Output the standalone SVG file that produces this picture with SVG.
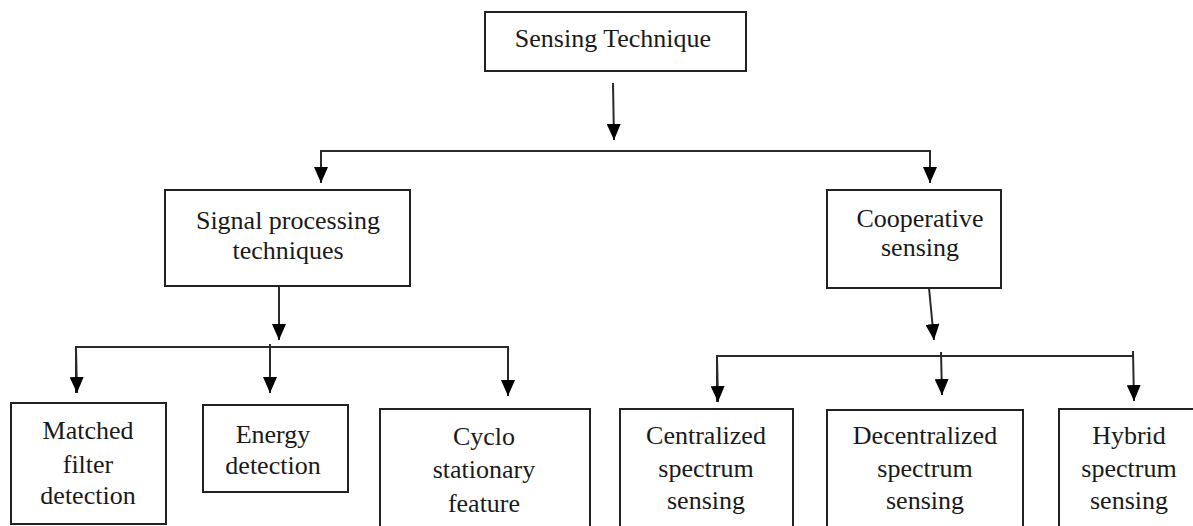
<svg xmlns="http://www.w3.org/2000/svg" width="1193" height="526" viewBox="0 0 1193 526">
<style>
.box{fill:#fff;stroke:#222;stroke-width:2}
.t{font-family:"Liberation Serif","Times New Roman",serif;font-size:26px;fill:#1a1a1a;text-anchor:middle}
.c{fill:none;stroke:#2a2a2a;stroke-width:2}
</style>
<defs>
<marker id="ah" viewBox="0 0 16 14" refX="16" refY="7" markerWidth="16" markerHeight="14" markerUnits="userSpaceOnUse" orient="auto">
<path d="M0,0 L16,7 L0,14 z" fill="#000"/>
</marker>
</defs>
<rect width="1193" height="526" fill="#fff"/>
<g id="connectors">
<line class="c" x1="613" y1="83" x2="614" y2="140" marker-end="url(#ah)"/>
<polyline class="c" points="321,183 321,151 930,151 930,183" marker-end="url(#ah)"/>
<line class="c" x1="321" y1="152" x2="321" y2="183" marker-end="url(#ah)"/>
<line class="c" x1="279" y1="286" x2="279" y2="340" marker-end="url(#ah)"/>
<polyline class="c" points="76,393 76,347 508,347 508,396" marker-end="url(#ah)"/>
<line class="c" x1="76" y1="348" x2="77" y2="393" marker-end="url(#ah)"/>
<line class="c" x1="270" y1="344" x2="270" y2="393" marker-end="url(#ah)"/>
<line class="c" x1="929" y1="288" x2="934" y2="340" marker-end="url(#ah)"/>
<polyline class="c" points="717,402 717,356 1133,356" />
<line class="c" x1="717" y1="356" x2="718" y2="402" marker-end="url(#ah)"/>
<line class="c" x1="941" y1="352" x2="942" y2="395" marker-end="url(#ah)"/>
<line class="c" x1="1133" y1="351" x2="1134" y2="401" marker-end="url(#ah)"/>
</g>
<g id="n-sensing">
<rect class="box" x="485" y="12" width="261" height="59"/>
<text class="t" x="613" y="47">Sensing Technique</text>
</g>
<g id="n-signal">
<rect class="box" x="165" y="190" width="245" height="96"/>
<text class="t" x="288" y="229">Signal processing</text>
<text class="t" x="288" y="259">techniques</text>
</g>
<g id="n-coop">
<rect class="box" x="827" y="190" width="174" height="98"/>
<text class="t" x="920" y="227">Cooperative</text>
<text class="t" x="920" y="256">sensing</text>
</g>
<g id="n-matched">
<rect class="box" x="11" y="403" width="155" height="121"/>
<text class="t" x="88" y="439">Matched</text>
<text class="t" x="88" y="473">filter</text>
<text class="t" x="88" y="504">detection</text>
</g>
<g id="n-energy">
<rect class="box" x="203" y="405" width="145" height="87"/>
<text class="t" x="273" y="443">Energy</text>
<text class="t" x="273" y="474">detection</text>
</g>
<g id="n-cyclo">
<rect class="box" x="380" y="409" width="210" height="130"/>
<text class="t" x="484" y="445">Cyclo</text>
<text class="t" x="484" y="478">stationary</text>
<text class="t" x="484" y="512">feature</text>
</g>
<g id="n-central">
<rect class="box" x="620" y="409" width="173" height="130"/>
<text class="t" x="706" y="444">Centralized</text>
<text class="t" x="706" y="477">spectrum</text>
<text class="t" x="706" y="509">sensing</text>
</g>
<g id="n-decentral">
<rect class="box" x="827" y="410" width="196" height="130"/>
<text class="t" x="925" y="444">Decentralized</text>
<text class="t" x="925" y="477">spectrum</text>
<text class="t" x="925" y="509">sensing</text>
</g>
<g id="n-hybrid">
<rect class="box" x="1059" y="409" width="140" height="130"/>
<text class="t" x="1129" y="444">Hybrid</text>
<text class="t" x="1129" y="477">spectrum</text>
<text class="t" x="1129" y="509">sensing</text>
</g>
</svg>
